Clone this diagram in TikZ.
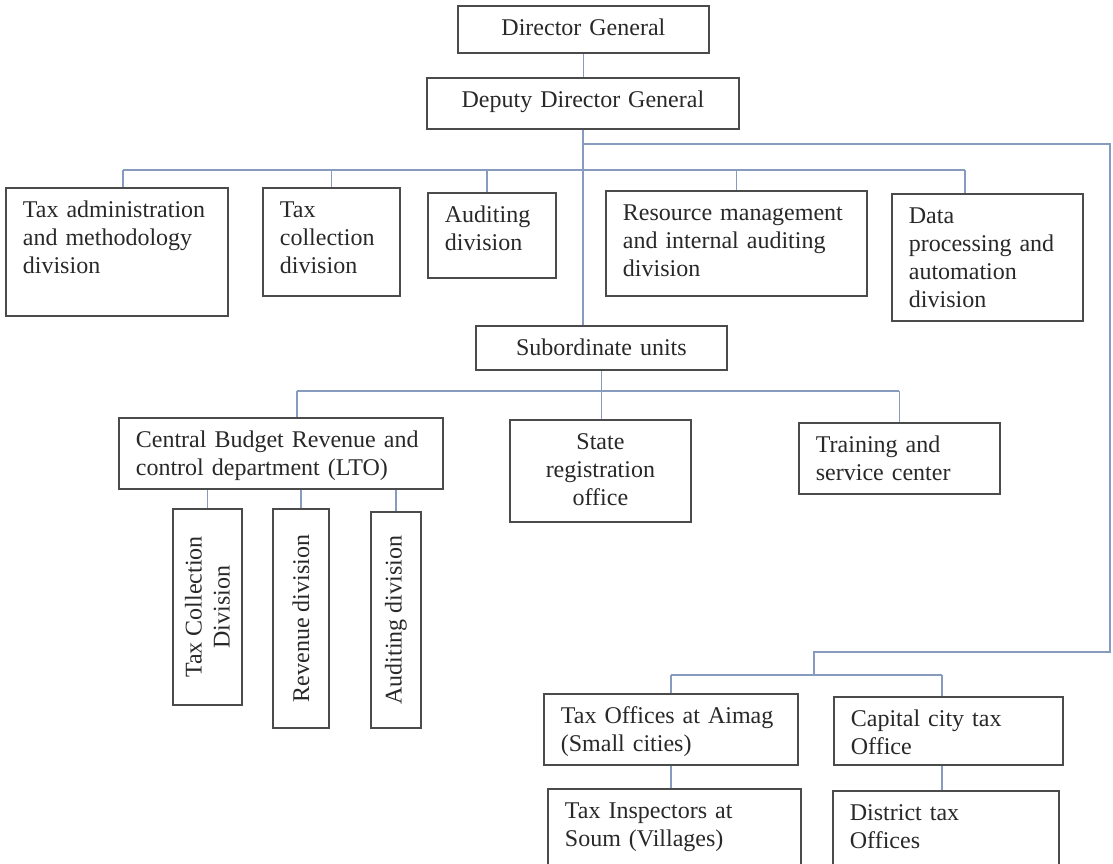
\documentclass[tikz,border=0pt]{standalone}
\usepackage{fontspec}
\setmainfont{Liberation Serif}
\definecolor{boxgray}{RGB}{75,75,75}
\definecolor{linkblue}{RGB}{135,155,190}
\definecolor{inkgray}{RGB}{40,40,40}

\begin{document}
\begin{tikzpicture}[x=1pt,y=-1pt,
  every node/.style={font=\fontsize{24}{28}\selectfont,text=inkgray},
  unit/.style 2 args={shape=rectangle,draw=boxgray,line width=1.8pt,anchor=north west,inner xsep=17pt,inner ysep=0pt,align=left,text width=#1,text height=30pt,text depth=#2},
  unitc/.style 2 args={unit={#1}{#2},align=center},
  sideunit/.style={shape=rectangle,draw=boxgray,line width=1.8pt,rotate=90,inner sep=0pt,align=center},
  link/.style={draw=linkblue,line width=1.3pt}]
  \useasboundingbox (0,0) rectangle (1113,863);

  \node[unitc={217pt}{17pt}] (directorGeneral) at (457,5) {Director General};
  \node[unitc={278pt}{21pt}] (deputyDirector) at (426,77) {Deputy Director General};

  \node[unit={188pt}{98pt}] (taxAdmin) at (5,187) {Tax administration\\and methodology\\division};
  \node[unit={103pt}{78pt}] (taxCollection) at (262,187) {Tax\\collection\\division};
  \node[unit={94pt}{55pt}] (auditing) at (427,192) {Auditing\\division};
  \node[unit={227pt}{75pt}] (resourceMgmt) at (605,190) {Resource management\\and internal auditing\\division};
  \node[unit={157pt}{97pt}] (dataProcessing) at (891,193) {Data\\processing and\\automation\\division};

  \node[unitc={217pt}{14pt}] (subordinateUnits) at (475,325) {Subordinate units};
  \node[unit={290pt}{41pt}] (centralBudget) at (118,417) {Central Budget Revenue and\\control department (LTO)};
  \node[unitc={147pt}{72pt}] (stateRegistration) at (509,419) {State\\registration\\office};
  \node[unit={167pt}{41pt}] (trainingCenter) at (798,422) {Training and\\service center};

  \node[sideunit,minimum width=196pt,minimum height=69pt] (taxCollectionDiv) at (207.5,607) {Tax Collection\\Division};
  \node[sideunit,minimum width=219pt,minimum height=56pt] (revenueDiv) at (301,618.5) {Revenue division};
  \node[sideunit,minimum width=216pt,minimum height=50pt] (auditingDiv) at (396,620) {Auditing division};

  \node[unit={220pt}{41pt}] (aimagOffices) at (543,693) {Tax Offices at Aimag\\(Small cities)};
  \node[unit={195pt}{38pt}] (capitalOffice) at (833,696) {Capital city tax\\Office};
  \node[unit={219pt}{50pt}] (soumInspectors) at (547,788) {Tax Inspectors at\\Soum (Villages)};
  \node[unit={192pt}{48pt}] (districtOffices) at (832,790) {District tax\\Offices};

  \coordinate (divisionBus) at (0,170);
  \coordinate (subordinateBus) at (0,391);
  \coordinate (topRun) at (1110,144);
  \coordinate (lowRun) at (1110,652);
  \coordinate (regionBus) at (814,675);
  \coordinate (taxAdminDrop) at ([xshift=6pt]taxAdmin.north);
  \coordinate (auditingDrop) at ([xshift=-5pt]auditing.north);
  \coordinate (dataDrop) at ([xshift=-22.5pt]dataProcessing.north);
  \coordinate (centralBudgetDrop) at ([xshift=16pt]centralBudget.north);
  \coordinate (capitalDrop) at ([xshift=-6.5pt]capitalOffice.north);
  \coordinate (capitalDown) at ([xshift=-6.5pt]capitalOffice.south);

  \draw[link] (directorGeneral.south) -- (directorGeneral.south |- deputyDirector.north);
  \draw[link] (deputyDirector.south) -- (deputyDirector.south |- subordinateUnits.north);

  \draw[link] (taxAdminDrop |- divisionBus) -- (dataDrop |- divisionBus);
  \draw[link] (taxAdminDrop |- divisionBus) -- (taxAdminDrop);
  \draw[link] (taxCollection.north |- divisionBus) -- (taxCollection.north);
  \draw[link] (auditingDrop |- divisionBus) -- (auditingDrop);
  \draw[link] (resourceMgmt.north |- divisionBus) -- (resourceMgmt.north);
  \draw[link] (dataDrop |- divisionBus) -- (dataDrop);

  \draw[link] (subordinateUnits.south) -- (subordinateUnits.south |- stateRegistration.north);
  \draw[link] (centralBudgetDrop |- subordinateBus) -- (trainingCenter.north |- subordinateBus);
  \draw[link] (centralBudgetDrop |- subordinateBus) -- (centralBudgetDrop);
  \draw[link] (trainingCenter.north |- subordinateBus) -- (trainingCenter.north);

  \draw[link] (centralBudget.south -| taxCollectionDiv) -- (taxCollectionDiv.east);
  \draw[link] (centralBudget.south -| revenueDiv) -- (revenueDiv.east);
  \draw[link] (centralBudget.south -| auditingDiv) -- (auditingDiv.east);

  \draw[link] (deputyDirector.south |- topRun) -- (topRun) -- (lowRun) -- (lowRun -| regionBus) -- (regionBus);
  \draw[link] (aimagOffices.north |- regionBus) -- (capitalDrop |- regionBus);
  \draw[link] (aimagOffices.north |- regionBus) -- (aimagOffices.north);
  \draw[link] (capitalDrop |- regionBus) -- (capitalDrop);
  \draw[link] (aimagOffices.south) -- (aimagOffices.south |- soumInspectors.north);
  \draw[link] (capitalDown) -- (capitalDown |- districtOffices.north);
\end{tikzpicture}
\end{document}
